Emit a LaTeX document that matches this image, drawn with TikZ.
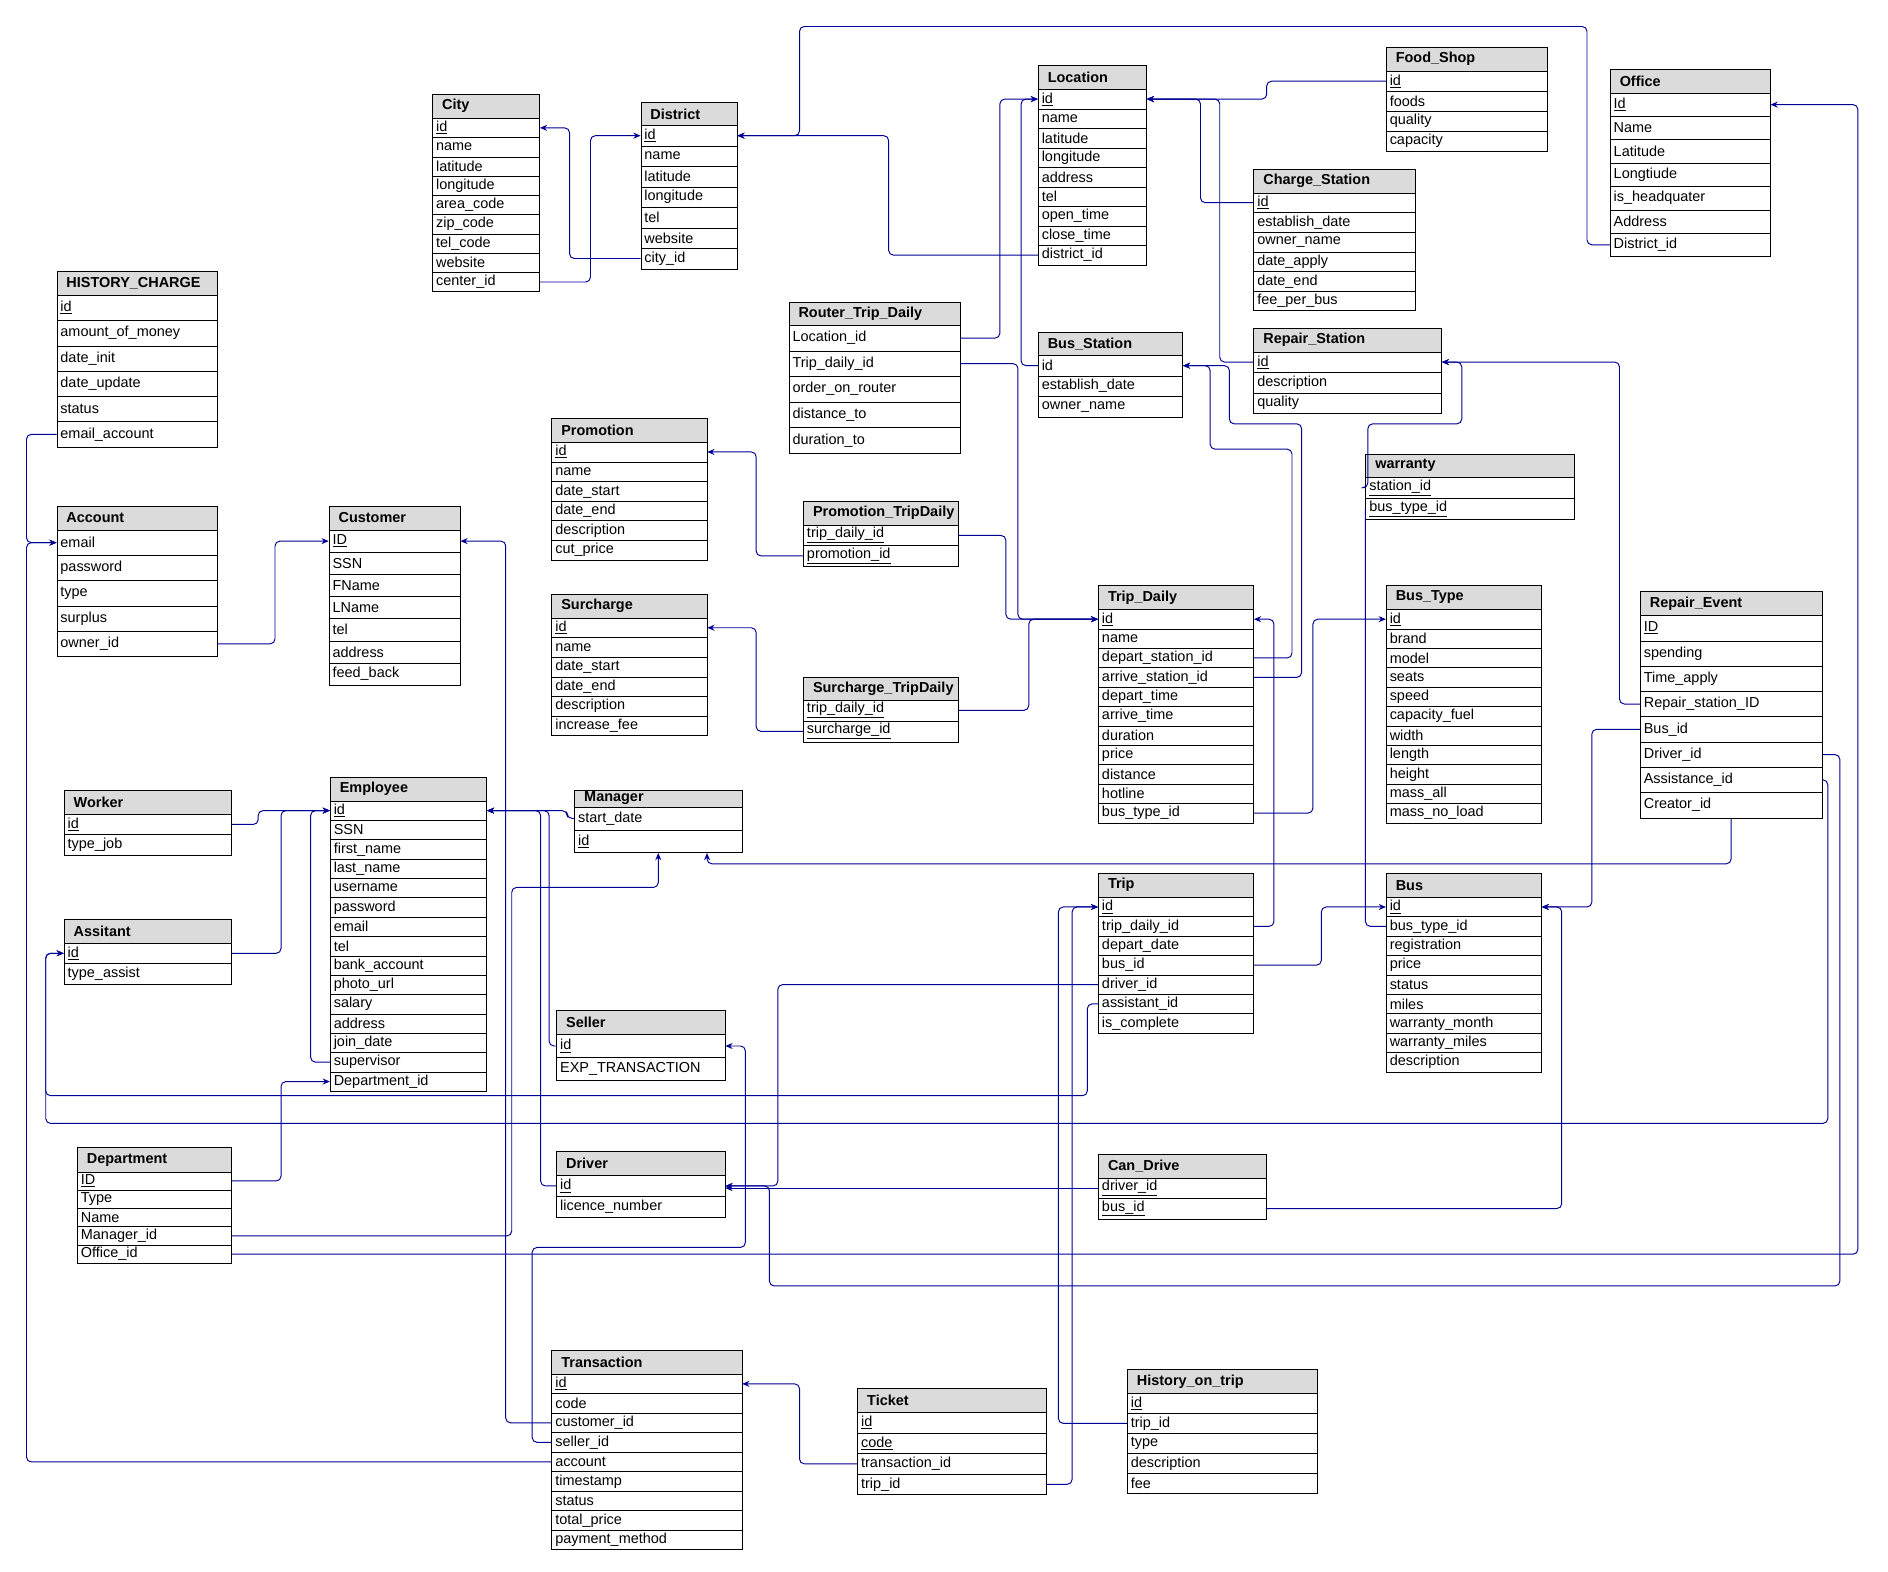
\documentclass[tikz,border=0pt]{standalone}
\usepackage{fontspec}
\setmainfont{Liberation Sans}
\usetikzlibrary{arrows.meta}
\definecolor{fkc}{RGB}{0,0,150}
\tikzset{
 hdr/.style={draw=black,fill=gray!28,inner ysep=0pt,inner xsep=8pt,align=left,font=\fontsize{12}{14}\selectfont\bfseries},
 rowb/.style={draw=black,fill=white,inner ysep=0pt,inner xsep=3pt,align=left,font=\fontsize{12}{14}\selectfont},
 fk/.style={draw=fkc,line width=0.8pt,rounded corners=4pt,-{Stealth[length=6pt,width=5pt]}},
 fkn/.style={draw=fkc,line width=0.8pt,rounded corners=4pt}
}
\newcommand\tbl[8]{%
 \pgfmathsetmacro\tw{#4-16}%
 \node[hdr,text width=\tw pt,minimum height=#5pt,anchor=north west] (#1) at (#2,-#3) {#7};
 \pgfmathsetmacro\tw{#4-6}%
 \foreach \r [count=\i] in {#8}{%
  \pgfmathsetmacro\yy{-#3-#5-(\i-1)*#6}%
  \node[rowb,text width=\tw pt,minimum height=#6pt,anchor=north west] (#1-\i) at (#2,\yy) {\r};
 }%
}
\begin{document}
\begin{tikzpicture}[x=1pt,y=1pt]
\useasboundingbox[fill=white] (0,0) rectangle (1568,-1305);
\tbl{City}{359}{78}{89}{20}{16}{City}{\underline{id},name,latitude,longitude,area\_code,zip\_code,tel\_code,website,center\_id}
\tbl{District}{532}{85}{80}{19}{17}{District}{\underline{id},name,latitude,longitude,tel,website,city\_id}
\tbl{Location}{862}{54}{90}{20}{16.2}{Location}{\underline{id},name,latitude,longitude,address,tel,open\_time,close\_time,district\_id}
\tbl{FoodShop}{1151}{39}{134}{20}{16.5}{Food\_Shop}{\underline{id},foods,quality,capacity}
\tbl{Office}{1337}{57}{133}{20}{19.4}{Office}{\underline{Id},Name,Latitude,Longtiude,is\_headquater,Address,District\_id}
\tbl{Charge}{1041}{140}{134}{20}{16.3}{Charge\_Station}{\underline{id},establish\_date,owner\_name,date\_apply,date\_end,fee\_per\_bus}
\tbl{Repair}{1041}{272}{156}{20}{17}{Repair\_Station}{\underline{id},description,quality}
\tbl{BusSt}{862}{276}{120}{19}{17}{Bus\_Station}{id,establish\_date,owner\_name}
\tbl{Router}{655}{251}{142}{19}{21.2}{Router\_Trip\_Daily}{Location\_id,Trip\_daily\_id,order\_on\_router,distance\_to,duration\_to}
\tbl{Hist}{47}{225}{133}{20}{21}{HISTORY\_CHARGE}{\underline{id},amount\_of\_money,date\_init,date\_update,status,email\_account}
\tbl{Account}{47}{420}{133}{20}{21}{Account}{email,password,type,surplus,owner\_id}
\tbl{Customer}{273}{420}{109}{20}{18.4}{Customer}{\underline{ID},SSN,FName,LName,tel,address,feed\_back}
\tbl{Promotion}{458}{347}{129}{20}{16.3}{Promotion}{\underline{id},name,date\_start,date\_end,description,cut\_price}
\tbl{PT}{667}{416}{129}{20}{17}{Promotion\_TripDaily}{\underline{trip\_daily\_id},\underline{promotion\_id}}
\tbl{Surcharge}{458}{493}{129}{20}{16.3}{Surcharge}{\underline{id},name,date\_start,date\_end,description,increase\_fee}
\tbl{ST}{667}{562}{129}{19}{17.5}{Surcharge\_TripDaily}{\underline{trip\_daily\_id},\underline{surcharge\_id}}
\tbl{Warranty}{1134}{377}{173}{19}{17.5}{warranty}{\underline{station\_id},\underline{bus\_type\_id}}
\tbl{TD}{912}{486}{129}{20}{16.1}{Trip\_Daily}{\underline{id},name,depart\_station\_id,arrive\_station\_id,depart\_time,arrive\_time,duration,price,distance,hotline,bus\_type\_id}
\tbl{BusType}{1151}{486}{129}{20}{16.1}{Bus\_Type}{\underline{id},brand,model,seats,speed,capacity\_fuel,width,length,height,mass\_all,mass\_no\_load}
\tbl{RE}{1362}{491}{151}{20}{21}{Repair\_Event}{\underline{ID},spending,Time\_apply,Repair\_station\_ID,Bus\_id,Driver\_id,Assistance\_id,Creator\_id}
\tbl{Worker}{53}{656}{139}{20}{17}{Worker}{\underline{id},type\_job}
\tbl{Emp}{274}{645}{130}{20}{16.07}{Employee}{\underline{id},SSN,first\_name,last\_name,username,password,email,tel,bank\_account,photo\_url,salary,address,join\_date,supervisor,Department\_id}
\tbl{Manager}{477}{656}{139}{14}{19}{Manager}{start\_date,\underline{id}}
\tbl{Assist}{53}{763}{139}{20}{17}{Assitant}{\underline{id},type\_assist}
\tbl{Trip}{912}{725}{129}{20}{16.1}{Trip}{\underline{id},trip\_daily\_id,depart\_date,bus\_id,driver\_id,assistant\_id,is\_complete}
\tbl{Bus}{1151}{725}{129}{20}{16.1}{Bus}{\underline{id},bus\_type\_id,registration,price,status,miles,warranty\_month,warranty\_miles,description}
\tbl{Seller}{462}{839}{140}{20}{19}{Seller}{\underline{id},EXP\_TRANSACTION}
\tbl{Dept}{64}{953}{128}{20}{15.2}{Department}{\underline{ID},Type,Name,Manager\_id,Office\_id}
\tbl{Driver}{462}{956}{140}{20}{17.5}{Driver}{\underline{id},licence\_number}
\tbl{CanDrive}{912}{958}{139}{20}{17}{Can\_Drive}{\underline{driver\_id},\underline{bus\_id}}
\tbl{Trans}{458}{1121}{158}{20}{16.2}{Transaction}{\underline{id},code,customer\_id,seller\_id,account,timestamp,status,total\_price,payment\_method}
\tbl{Ticket}{712}{1153}{157}{20}{17}{Ticket}{\underline{id},\underline{code},transaction\_id,trip\_id}
\tbl{HOT}{936}{1137}{158}{20}{16.6}{History\_on\_trip}{\underline{id},trip\_id,type,description,fee}

\draw[fk] (City-9.east) -- ++(42,0) |- (District-1.west);
\draw[fk] (District-7.west) -- ++(-59,0) |- (City-1.east);
\draw[fk] (Location-9.west) -- ++(-124,0) |- (District-1.east);
\draw[fk] (Office-7.west) -| (1318,-22) -- (664,-22) |- (District-1.east);
\draw[fk] (FoodShop-1.west) -- ++(-99,0) |- (Location-1.east);
\draw[fk] (Charge-1.west) -- ++(-44,0) |- (Location-1.east);
\draw[fk] (Repair-1.west) -- ++(-28,0) |- (Location-1.east);
\draw[fk] (Router-1.east) -- ++(33,0) |- (Location-1.west);
\draw[fk] (BusSt-1.west) -- ++(-14,0) |- (Location-1.west);
\draw[fk] (Router-2.east) -- ++(48,0) |- (TD-1.west);
\draw[fk] (PT-2.west) -- ++(-39,0) |- (Promotion-1.east);
\draw[fk] (PT-1.east) -- ++(39,0) |- (TD-1.west);
\draw[fk] (ST-2.west) -- ++(-39,0) |- (Surcharge-1.east);
\draw[fk] (ST-1.east) -- ++(58,0) |- (TD-1.west);
\draw[fk] (TD-3.east) -| (1073,-373) -- (1005,-373) |- (BusSt-1.east);
\draw[fk] (TD-4.east) -| (1081,-352) -- (1021,-352) |- (BusSt-1.east);
\draw[fk] (TD-11.east) -- ++(49,0) |- (BusType-1.west);
\draw[fk] (Warranty-1.west) -- ++(2,0) |- (1214,-352) |- (Repair-1.east);
\draw[fkn] (Warranty-2.west) |- (Bus-2.west);
\draw[fk] (RE-4.west) -- ++(-17,0) |- (Repair-1.east);
\draw[fk] (RE-5.west) -- ++(-40,0) |- (Bus-1.east);
\draw[fk] (RE-8.south) |- ([xshift=40.5pt,yshift=-9pt]Manager-2.south) -- ([xshift=40.5pt]Manager-2.south);
\draw[fk] (Dept-5.east) -| (1543,-500) |- (Office-1.east);
\draw[fk] (RE-6.east) -| (1528,-1068) -| (639,-1000) |- (Driver-1.east);
\draw[fk] (RE-7.east) -| (1518,-933) -| (38,-900) |- (Assist-1.west);
\draw[fk] (Trip-6.west) -| (903,-910) -| (38,-900) |- (Assist-1.west);
\draw[fk] (Trip-5.west) -| (646,-900) |- (Driver-1.east);
\draw[fk] (Trip-2.east) -| (1058,-600) |- (TD-1.east);
\draw[fk] (CanDrive-1.west) -- (CanDrive-1.west -| Driver-1.east);
\draw[fk] (CanDrive-2.east) -| (1297,-900) |- (Bus-1.east);
\draw[fk] (Trip-4.east) -- ++(56,0) |- (Bus-1.west);
\draw[fk] (Dept-4.east) -| (425,-737) -| (Manager-2.south);
\draw[fk] (Dept-1.east) -- ++(41,0) |- (Emp-15.west);
\draw[fk] (Worker-1.east) -- ++(22,0) |- (Emp-1.west);
\draw[fk] (Assist-1.east) -- ++(41,0) |- (Emp-1.west);
\draw[fk] (Emp-14.west) -- ++(-16,0) |- (Emp-1.west);
\draw[fk] (Manager-1.west) -- ++(-6,0) |- (Emp-1.east);
\draw[fk] (Seller-1.west) -- ++(-6,0) |- (Emp-1.east);
\draw[fk] (Driver-1.west) -- ++(-13,0) |- (Emp-1.east);
\draw[fk] (Trans-3.west) -- ++(-38,0) |- (Customer-1.east);
\draw[fk] (Trans-4.west) -| (442,-1036) -| (619,-950) |- (Seller-1.east);
\draw[fk] (Trans-5.west) -| (22,-800) |- (Account-1.west);
\draw[fk] (Hist-6.west) -| (22,-400) |- (Account-1.west);
\draw[fk] (Account-5.east) -- ++(48,0) |- (Customer-1.west);
\draw[fk] (Ticket-3.west) -- ++(-48,0) |- (Trans-1.east);
\draw[fk] (Ticket-4.east) -- ++(21,0) |- (Trip-1.west);
\draw[fk] (HOT-2.west) -- ++(-57,0) |- (Trip-1.west);
\end{tikzpicture}
\end{document}
